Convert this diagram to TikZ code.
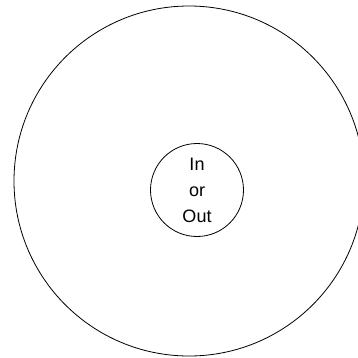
\documentclass[tikz,border=0pt]{standalone}
\usepackage{fontspec}
\setmainfont{Liberation Sans}
\usetikzlibrary{positioning}

\begin{document}
\begin{tikzpicture}[
  x=1pt,y=-1pt,
  ring/.style={circle,draw,line width=0.8pt,inner sep=0pt},
  every node/.style={font=\fontsize{18}{26}\selectfont}
]
  \useasboundingbox (0,0) rectangle (358,357);
  \clip (0,0) rectangle (358,357);

  % outer boundary
  \node[ring,minimum size=350pt] (outer) at (189,181) {};

  % inner circle
  \node[ring,minimum size=93pt,align=center] (inner) at (197,190)
    {In\\or\\Out};
\end{tikzpicture}
\end{document}
